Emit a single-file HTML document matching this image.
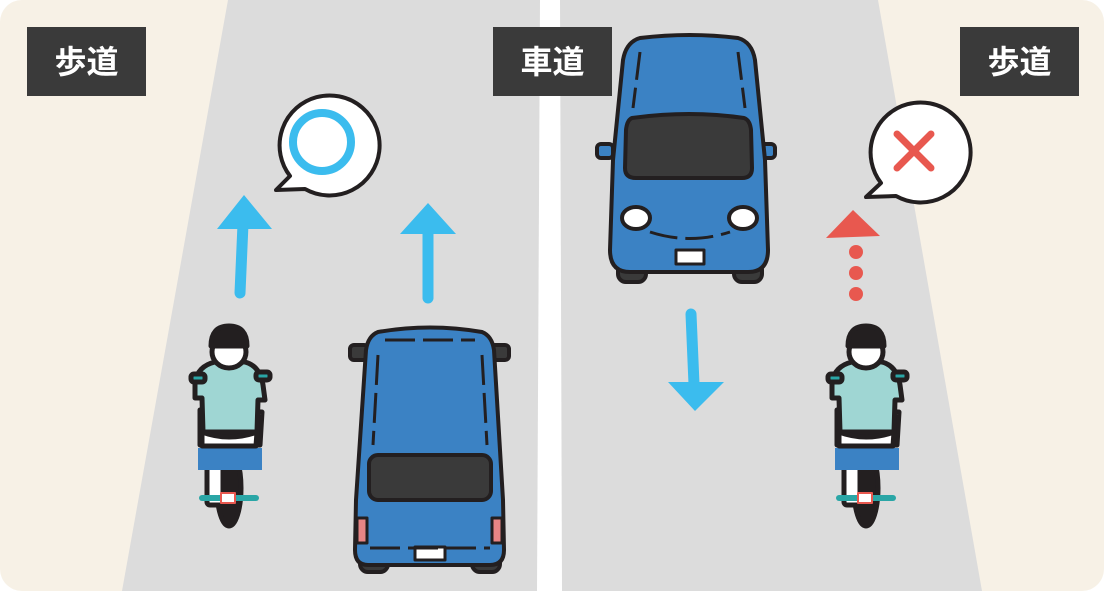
<!DOCTYPE html>
<html><head><meta charset="utf-8"><style>
html,body{margin:0;padding:0;background:#fff}
svg{display:block}
text{font-family:"Liberation Sans","Noto Sans CJK JP",sans-serif;font-weight:bold}
</style></head><body>
<svg width="1104" height="591" viewBox="0 0 1104 591" xmlns="http://www.w3.org/2000/svg">
<defs>
<g id="cyc" stroke="#231f20" stroke-width="5" stroke-linecap="round" stroke-linejoin="round">
  <ellipse cx="229" cy="488" rx="12" ry="38" fill="#231f20"/>
  <rect x="207" y="465" width="16" height="40" rx="3" fill="#fff"/>
  <rect x="198" y="448" width="64" height="22" fill="#3b82c4" stroke="none"/>
  <rect x="210" y="410" width="40" height="30" fill="#3b82c4"/>
  <path d="M200 410 L200 445 L260 445 L262 412 Z" fill="#fff"/>
  <path d="M195 382 Q198 366 215 362 L245 362 Q260 366 263 385 L265 400 L258 400 L257 432 L203 432 L202 398 L195 398 Z" fill="#9fd6d3"/>
  <rect x="191" y="374" width="14" height="8" rx="3" fill="#2aa6a6"/>
  <rect x="256" y="372" width="14" height="8" rx="3" fill="#2aa6a6"/>
  <path d="M202 432 Q229 442 257 432 L256 446 L202 446 Z" fill="#fff"/>
  <ellipse cx="229" cy="352" rx="17" ry="16" fill="#fff"/>
  <path d="M211 346 Q211 326 229 326 Q247 326 247 346 Z" fill="#231f20"/>
  <rect x="199" y="495" width="60" height="6" rx="3" fill="#2aa6a6" stroke="none"/>
  <rect x="221" y="493" width="14" height="10" fill="#fff" stroke="#e8584f" stroke-width="2"/>
</g>
</defs>
<rect x="0" y="0" width="1104" height="591" rx="22" fill="#f7f1e6"/>
<polygon points="228,0 878,0 982,591 122,591" fill="#dcdcdc"/>
<polygon points="540,0 560,0 562,591 537,591" fill="#fff"/>
<!-- labels -->
<rect x="27" y="27" width="119" height="69" fill="#3a3a3a"/>
<text x="86.5" y="73" font-size="32" fill="#fff" text-anchor="middle">歩道</text>
<rect x="493" y="27" width="119" height="69" fill="#3a3a3a"/>
<text x="552.5" y="73" font-size="32" fill="#fff" text-anchor="middle">車道</text>
<rect x="960" y="27" width="119" height="69" fill="#3a3a3a"/>
<text x="1019.5" y="73" font-size="32" fill="#fff" text-anchor="middle">歩道</text>
<!-- arrows -->
<g fill="#3bbcee" stroke="#3bbcee" stroke-linecap="round">
  <line x1="240" y1="293" x2="243" y2="224" stroke-width="11"/>
  <polygon points="244,195 217,229 272,229" stroke="none"/>
  <line x1="428" y1="298" x2="428" y2="228" stroke-width="11"/>
  <polygon points="428,203 400,234 456,234" stroke="none"/>
  <line x1="691" y1="314" x2="694" y2="384" stroke-width="11"/>
  <polygon points="695,411 668,382 724,382" stroke="none"/>
</g>
<g fill="#e8584f">
  <polygon points="853,210 826,238 880,236"/>
  <circle cx="856" cy="252" r="7"/><circle cx="856" cy="273" r="7"/><circle cx="856" cy="294" r="7"/>
</g>
<!-- bubbles -->
<g stroke="#231f20" stroke-width="4" fill="#fff" stroke-linejoin="round">
  <path d="M290 176 A50 50 0 1 1 305 189 L276 190 Z"/>
  <path d="M881 183 A50 50 0 1 1 896 196 L866 197 Z"/>
</g>
<circle cx="322" cy="142" r="29" fill="none" stroke="#3bbcee" stroke-width="8"/>
<g stroke="#e8584f" stroke-width="7" stroke-linecap="round">
  <line x1="897" y1="134" x2="931" y2="168"/><line x1="931" y1="134" x2="897" y2="168"/>
</g>
<!-- cyclists -->
<use href="#cyc"/>
<use href="#cyc" transform="translate(637,0)"/>
<!-- back car -->
<g stroke="#231f20" stroke-width="4" stroke-linejoin="round">
  <rect x="360" y="548" width="28" height="24" rx="8" fill="#3a3a3a"/>
  <rect x="472" y="548" width="28" height="24" rx="8" fill="#3a3a3a"/>
  <rect x="350" y="345" width="18" height="15" rx="4" fill="#3a3a3a"/>
  <rect x="491" y="345" width="18" height="15" rx="4" fill="#3a3a3a"/>
  <path d="M378 332 Q430 323 482 332 Q492 336 494 350 L503 500 L504 550 Q504 565 490 565 L368 565 Q355 565 355 550 L356 500 L366 350 Q368 336 378 332 Z" fill="#3b82c4"/>
  <rect x="369" y="455" width="122" height="45" rx="9" fill="#3a3a3a"/>
  <rect x="357" y="518" width="10" height="25" fill="#e88585" stroke-width="3"/>
  <rect x="492" y="518" width="10" height="25" fill="#e88585" stroke-width="3"/>
  <rect x="415" y="547" width="30" height="13" fill="#fff" stroke-width="3"/>
</g>
<g stroke="#231f20" stroke-width="3" stroke-dasharray="30 8" fill="none">
  <line x1="385" y1="340" x2="475" y2="340"/>
  <line x1="378" y1="355" x2="373" y2="445"/>
  <line x1="482" y1="355" x2="487" y2="445"/>
  <line x1="370" y1="548" x2="490" y2="548"/>
</g>
<!-- front car -->
<g stroke="#231f20" stroke-width="4" stroke-linejoin="round">
  <rect x="618" y="262" width="28" height="20" rx="8" fill="#3a3a3a"/>
  <rect x="734" y="262" width="28" height="20" rx="8" fill="#3a3a3a"/>
  <rect x="597" y="144" width="16" height="14" rx="4" fill="#3b82c4"/>
  <rect x="759" y="144" width="16" height="14" rx="4" fill="#3b82c4"/>
  <path d="M640 38 Q690 32 738 38 Q752 42 755 60 L765 160 L768 250 Q768 272 748 272 L630 272 Q610 272 610 250 L613 160 L623 60 Q626 42 640 38 Z" fill="#3b82c4"/>
  <path d="M632 118 Q690 110 744 118 Q750 120 751 130 L752 168 Q752 178 742 178 L636 178 Q625 178 625 168 L626 130 Q627 120 632 118 Z" fill="#3a3a3a"/>
  <ellipse cx="636" cy="218" rx="14" ry="11" fill="#fff"/>
  <ellipse cx="743" cy="218" rx="14" ry="11" fill="#fff"/>
  <rect x="676" y="250" width="28" height="14" fill="#fff" stroke-width="3"/>
</g>
<g stroke="#231f20" stroke-width="3" stroke-dasharray="28 8" fill="none">
  <path d="M650 232 Q690 245 730 232"/>
  <line x1="640" y1="52" x2="633" y2="108"/>
  <line x1="738" y1="52" x2="745" y2="108"/>
</g>
</svg>
</body></html>
